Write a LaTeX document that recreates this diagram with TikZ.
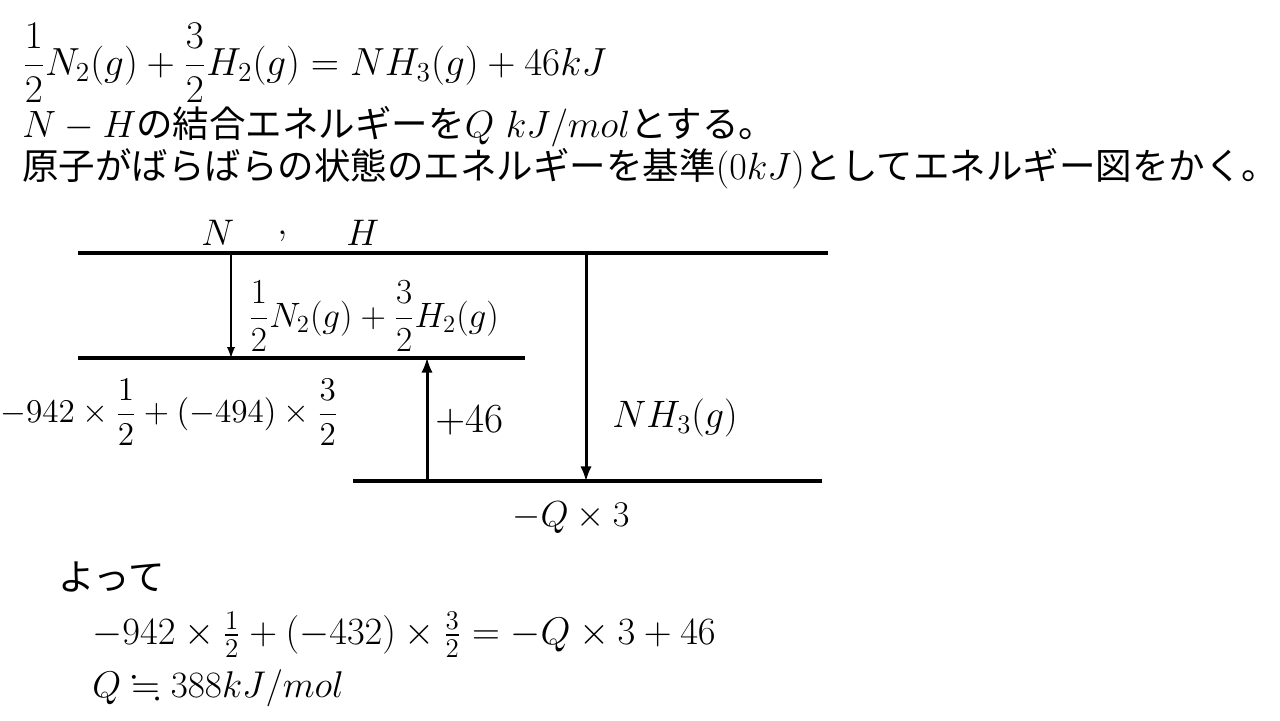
\RequirePackage{fix-cm}
\documentclass[tikz,border=0pt]{standalone}
\usepackage{amssymb}
\usepackage{amsmath}
\usepackage{fontspec}
\newfontfamily\jpfont{Noto Sans CJK JP}
\newcommand{\jp}[1]{{\fontsize{18.25}{22}\jpfont #1}}
\usepackage{tikz}
\usetikzlibrary{shapes.geometric, arrows}

\begin{document}
\begin{tikzpicture}[x=0.5pt, y=-0.5pt,
                every node/.style={inner sep=0pt, anchor=west, font=\fontsize{19}{23}\selectfont}, % text lines
                level/.style={line width=2pt}, % energy levels
                thin arrow/.style={-latex, line width=0.9pt},
                thick arrow/.style={-latex, line width=1.5pt}
                ]
                \useasboundingbox (0,0) rectangle (1280,720);
                % question
                \node[font=\fontsize{19.6}{23}\selectfont] (eq) at (22,63) {$\dfrac{1}{2}N_2(g)+\dfrac{3}{2}H_2(g)=NH_3(g)+46kJ$};
                \node (bond) at (22,127) {$N-H$\jp{の結合エネルギーを}$Q\ kJ/mol$\jp{とする。}};
                \node (base) at (22,169) {\jp{原子がばらばらの状態のエネルギーを基準}$(0kJ)$\jp{としてエネルギー図をかく。}};
                % levels
                \coordinate (atomsL) at (78,253);
                \coordinate (atomsR) at (828,253);
                \coordinate (reactL) at (78,358);
                \coordinate (reactR) at (525,358);
                \coordinate (prodL) at (353,481);
                \coordinate (prodR) at (822,481);
                \draw[level] (atomsL) -- (atomsR);
                \draw[level] (reactL) -- (reactR);
                \draw[level] (prodL) -- (prodR);
                % arrows
                \coordinate (a1) at (231,253);
                \coordinate (a2) at (231,358);
                \coordinate (b1) at (427,481);
                \coordinate (b2) at (427,358);
                \coordinate (c1) at (586,253);
                \coordinate (c2) at (586,481);
                \draw[thin arrow] (a1) -- (a2);
                \draw[thick arrow] (b1) -- (b2);
                \draw[thick arrow] (c1) -- (c2);
                % labels
                \node[font=\fontsize{18.5}{22}\selectfont] (N) at (201,233) {$N$};
                \node[font=\fontsize{18.5}{22}\selectfont] (comma) at (277,236) {$,$};
                \node[font=\fontsize{18.5}{22}\selectfont] (H) at (346,233) {$H$};
                \node[font=\fontsize{17.6}{21}\selectfont] (react) at (248,316) {$\dfrac{1}{2}N_2(g)+\dfrac{3}{2}H_2(g)$};
                \node[font=\fontsize{16.6}{20}\selectfont] (diss) at (0,412) {$-942\times\dfrac{1}{2}+(-494)\times\dfrac{3}{2}$};
                \node[font=\fontsize{20.7}{24}\selectfont] (dH) at (435,420) {$+46$};
                \node[font=\fontsize{19.1}{23}\selectfont] (prod) at (612,418) {$NH_3(g)$};
                \node[font=\fontsize{18.1}{22}\selectfont] (bondE) at (512,518) {$-Q\times 3$};
                % answer
                \node (yotte) at (58,577) {\jp{よって}};
                \node[font=\fontsize{19.3}{23}\selectfont] (calc) at (92,635) {$-942\times\tfrac{1}{2}+(-432)\times\tfrac{3}{2}=-Q\times 3+46$};
                \node[font=\fontsize{18.6}{22}\selectfont] (ans) at (92,688) {$Q\fallingdotseq 388kJ/mol$};
            \end{tikzpicture}
\end{document}
